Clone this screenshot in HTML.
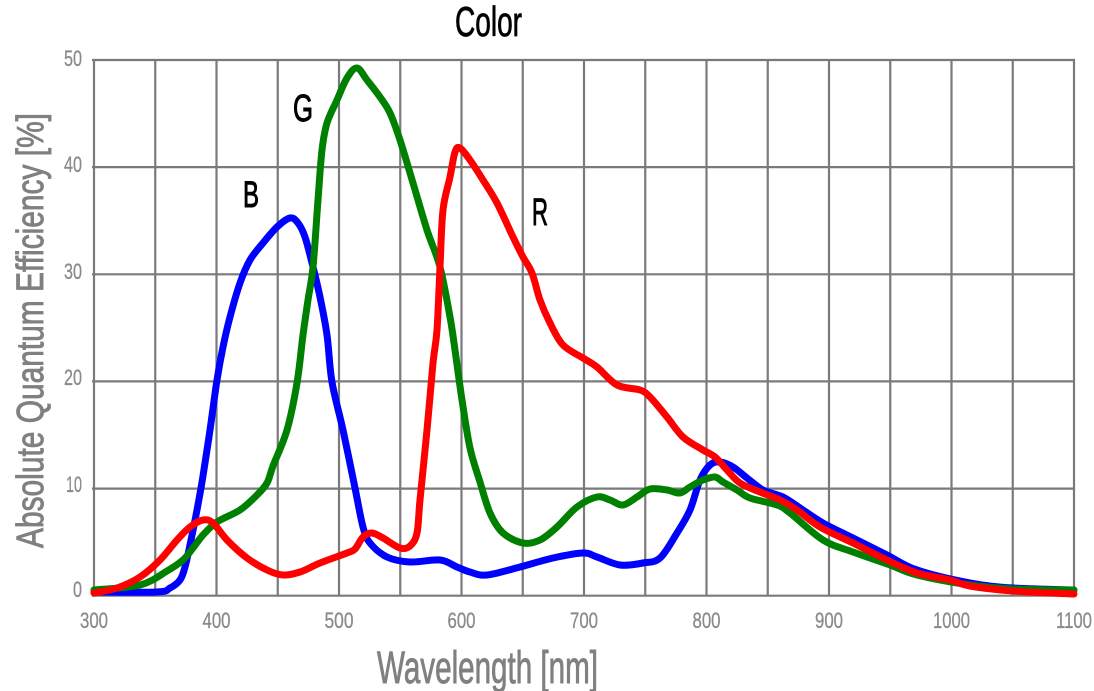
<!DOCTYPE html>
<html>
<head>
<meta charset="utf-8">
<style>
  html, body { margin: 0; padding: 0; background: #ffffff; }
  svg { display: block; }
  text { font-family: "Liberation Sans Narrow", "Liberation Sans", sans-serif; }
</style>
</head>
<body>
<svg id="chart" width="1094" height="691" viewBox="0 0 1094 691" xmlns="http://www.w3.org/2000/svg">
  <rect x="0" y="0" width="1094" height="691" fill="#ffffff"/>
  <!-- grid -->
  <g stroke="#7a7a7a" stroke-width="2.2" fill="none">
    <line x1="92" y1="60" x2="1075" y2="60"/>
    <line x1="92" y1="167.1" x2="1075" y2="167.1"/>
    <line x1="92" y1="274.3" x2="1075" y2="274.3"/>
    <line x1="92" y1="381.4" x2="1075" y2="381.4"/>
    <line x1="92" y1="488.6" x2="1075" y2="488.6"/>
    <line x1="92" y1="595.7" x2="1075" y2="595.7"/>
    <line x1="94" y1="60" x2="94" y2="596"/>
    <line x1="155.25" y1="60" x2="155.25" y2="596"/>
    <line x1="216.5" y1="60" x2="216.5" y2="596"/>
    <line x1="277.75" y1="60" x2="277.75" y2="596"/>
    <line x1="339" y1="60" x2="339" y2="596"/>
    <line x1="400.25" y1="60" x2="400.25" y2="596"/>
    <line x1="461.5" y1="60" x2="461.5" y2="596"/>
    <line x1="522.75" y1="60" x2="522.75" y2="596"/>
    <line x1="584" y1="60" x2="584" y2="596"/>
    <line x1="645.25" y1="60" x2="645.25" y2="596"/>
    <line x1="706.5" y1="60" x2="706.5" y2="596"/>
    <line x1="767.75" y1="60" x2="767.75" y2="596"/>
    <line x1="829" y1="60" x2="829" y2="596"/>
    <line x1="890.25" y1="60" x2="890.25" y2="596"/>
    <line x1="951.5" y1="60" x2="951.5" y2="596"/>
    <line x1="1012.75" y1="60" x2="1012.75" y2="596"/>
    <line x1="1074" y1="60" x2="1074" y2="596"/>
  </g>

  <!-- y tick labels -->
  <g fill="#8a8a8a" stroke="#8a8a8a" stroke-width="0.3" font-size="22" text-anchor="end">
    <text x="82" y="66" textLength="18" lengthAdjust="spacingAndGlyphs">50</text>
    <text x="82" y="172" textLength="18" lengthAdjust="spacingAndGlyphs">40</text>
    <text x="82" y="279" textLength="18" lengthAdjust="spacingAndGlyphs">30</text>
    <text x="82" y="385" textLength="18" lengthAdjust="spacingAndGlyphs">20</text>
    <text x="82" y="492" textLength="16" lengthAdjust="spacingAndGlyphs">10</text>
    <text x="82" y="597" textLength="9" lengthAdjust="spacingAndGlyphs">0</text>
  </g>

  <!-- x tick labels -->
  <g fill="#8a8a8a" stroke="#8a8a8a" stroke-width="0.3" font-size="22" text-anchor="middle">
    <text x="94" y="628" textLength="28" lengthAdjust="spacingAndGlyphs">300</text>
    <text x="216.5" y="628" textLength="28" lengthAdjust="spacingAndGlyphs">400</text>
    <text x="339" y="628" textLength="29" lengthAdjust="spacingAndGlyphs">500</text>
    <text x="461.5" y="628" textLength="28" lengthAdjust="spacingAndGlyphs">600</text>
    <text x="584" y="628" textLength="28" lengthAdjust="spacingAndGlyphs">700</text>
    <text x="706.5" y="628" textLength="28" lengthAdjust="spacingAndGlyphs">800</text>
    <text x="829" y="628" textLength="28" lengthAdjust="spacingAndGlyphs">900</text>
    <text x="951.5" y="628" textLength="37" lengthAdjust="spacingAndGlyphs">1000</text>
    <text x="1074" y="628" textLength="36" lengthAdjust="spacingAndGlyphs">1100</text>
  </g>

  <!-- axis titles -->
  <text x="487.5" y="683" font-size="45" fill="#808080" stroke="#808080" stroke-width="0.9" text-anchor="middle" textLength="221" lengthAdjust="spacingAndGlyphs">Wavelength [nm]</text>
  <text transform="translate(43,330.5) rotate(-90)" x="0" y="0" font-size="38" fill="#808080" stroke="#808080" stroke-width="0.9" text-anchor="middle" textLength="435" lengthAdjust="spacingAndGlyphs">Absolute Quantum Efficiency [%]</text>
  <text x="488.5" y="36" font-size="42" fill="#000000" stroke="#000000" stroke-width="0.8" text-anchor="middle" textLength="67" lengthAdjust="spacingAndGlyphs">Color</text>

  <!-- series -->
  <g id="series" fill="none" stroke-width="7" stroke-linejoin="round" stroke-linecap="round">
    <polyline stroke="#0000ff" points="94,592 157,592 170,588 180,580 185,567 190,545 197,510 203,476 210,430 217,380 223,347 230,317 240,283 250,260 263,243 277,227 290,218 298,223 305,237 313,267 320,297 327,335 332,382 343,430 355,488 363,527 370,543 387,557 410,562 440,560 457,567 470,572 487,575 520,567 553,558 583,553 597,557 620,565 643,563 660,558 677,533 690,510 700,480 710,465 720,462 733,467 747,478 763,490 783,497 803,510 823,523 853,538 887,555 917,570 970,583 1013,588 1074,590"/>
    <polyline stroke="#008000" points="94,590 140,585 167,571 183,560 193,548 203,535 217,522 240,510 257,495 267,483 273,466 287,430 297,383 303,335 308,300 313,267 318,200 322,150 327,123 337,100 347,78 357,68 367,80 380,97 390,113 400,140 413,183 427,230 440,267 450,317 455,350 462,400 470,448 480,482 490,513 503,533 523,543 540,540 557,527 577,507 597,497 610,500 623,505 637,497 650,489 667,490 680,493 690,487 703,480 715,477 723,482 737,490 750,498 777,505 790,513 823,540 853,552 890,565 917,575 970,585 1013,589 1074,590"/>
    <polyline stroke="#ff0000" points="94,593 117,588 140,577 160,560 177,540 190,527 203,520 213,523 227,540 247,558 267,570 283,575 300,572 320,563 347,553 355,549 363,537 372,533 383,538 400,548 410,546 417,533 420,500 427,430 433,363 437,330 440,267 443,210 450,177 455,152 460,148 470,160 483,180 497,203 513,237 523,257 532,273 540,300 550,323 563,345 583,358 597,367 617,385 640,390 650,397 667,417 683,437 703,450 715,457 727,470 740,483 760,492 780,500 797,510 820,527 853,543 887,560 917,573 950,580 970,586 1013,591 1074,594"/>
  </g>

  <!-- series labels -->
  <g fill="#000000" stroke="#000000" stroke-width="1">
    <text x="251" y="207" font-size="37" text-anchor="middle" textLength="16" lengthAdjust="spacingAndGlyphs">B</text>
    <text x="303" y="121" font-size="38" text-anchor="middle" textLength="20" lengthAdjust="spacingAndGlyphs">G</text>
    <text x="540" y="225" font-size="38" text-anchor="middle" textLength="16" lengthAdjust="spacingAndGlyphs">R</text>
  </g>
</svg>
<script>
(function () {
  var NS = "http://www.w3.org/2000/svg";
  var polys = document.querySelectorAll("#series polyline");
  for (var i = 0; i < polys.length; i++) {
    var pl = polys[i];
    var nums = pl.getAttribute("points").trim().split(/[\s,]+/).map(Number);
    var p = [];
    for (var j = 0; j < nums.length; j += 2) p.push([nums[j], nums[j + 1]]);
    var d = "M" + p[0][0] + "," + p[0][1];
    var t = 0.5;
    for (var k = 0; k < p.length - 1; k++) {
      var p0 = p[k - 1] || p[k], p1 = p[k], p2 = p[k + 1], p3 = p[k + 2] || p[k + 1];
      var c1x = p1[0] + (p2[0] - p0[0]) / 6 * t * 2;
      var c1y = p1[1] + (p2[1] - p0[1]) / 6 * t * 2;
      var c2x = p2[0] - (p3[0] - p1[0]) / 6 * t * 2;
      var c2y = p2[1] - (p3[1] - p1[1]) / 6 * t * 2;
      d += " C" + c1x.toFixed(2) + "," + c1y.toFixed(2) + " " + c2x.toFixed(2) + "," + c2y.toFixed(2) + " " + p2[0] + "," + p2[1];
    }
    var path = document.createElementNS(NS, "path");
    path.setAttribute("d", d);
    path.setAttribute("stroke", pl.getAttribute("stroke"));
    pl.parentNode.replaceChild(path, pl);
  }
})();
</script>
</body>
</html>
